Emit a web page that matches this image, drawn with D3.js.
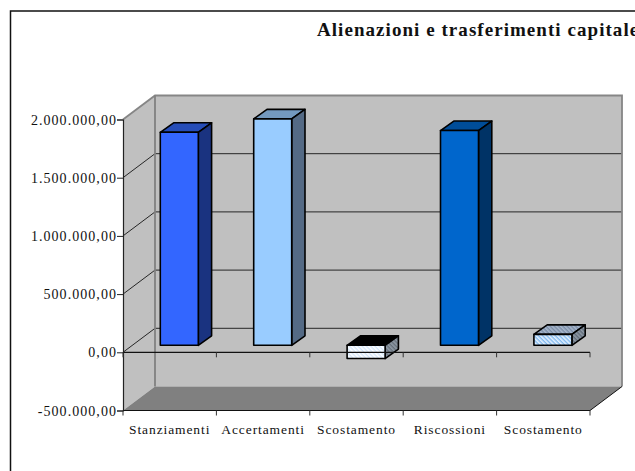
<!DOCTYPE html>
<html><head><meta charset="utf-8">
<script src="https://cdn.jsdelivr.net/npm/d3@7"></script>
<style>html,body{margin:0;padding:0;background:#fff;overflow:hidden}svg{display:block}
text{font-family:"Liberation Serif",serif;fill:#111}</style></head><body>
<script>
const title = "Alienazioni e trasferimenti capitale";
const categories = ["Stanziamenti","Accertamenti","Scostamento","Riscossioni","Scostamento "];
const values = [1830000,1945000,-114000,1845000,94000];
const yTicks = [-500000,0,500000,1000000,1500000,2000000];
const yTickLabels = ["-500.000,00","0,00","500.000,00","1.000.000,00","1.500.000,00","2.000.000,00"];
const frontColors = ["#3366ff","#99ccff","url(#pf3)","#0066cc","url(#pf5)"];
const topColors = ["#264db8","#7399bf","#000000","#004d99","url(#pt5)"];
const sideColors = ["#1a3380","#546a85","url(#ps3)","#003366","url(#ps5)"];

const W=635,H=471;
const svg=d3.select("body").append("svg").attr("width",W).attr("height",H);
const y=d3.scaleLinear().domain([-500000,2000000]).range([410.5,119.5]);
const x=d3.scaleBand().domain(d3.range(categories.length)).range([123,590]).paddingInner(0).paddingOuter(0);
const DX=32,DY=-24, barW=38, bdx=13.3,bdy=-9.5, ox=9.6,oy=-7;

// patterns
const defs=svg.append("defs");
function pat(id,bg,fg,rot){
  const p=defs.append("pattern").attr("id",id).attr("width",3).attr("height",3).attr("patternUnits","userSpaceOnUse").attr("patternTransform",`rotate(${rot})`);
  p.append("rect").attr("width",3).attr("height",3).attr("fill",bg);
  p.append("rect").attr("width",3).attr("height",1.4).attr("fill",fg);
}
pat("pf3","#ffffff","#d3e6fa",45);
pat("ps3","#8f9aa6","#66707a",45);
pat("pf5","#e6f2ff","#7fb8ee",45);
pat("pt5","#a8b8cc","#7a8ca6",45);
pat("ps5","#8f9aa6","#5f6b78",45);

const poly=(pts)=>pts.map(p=>p.join(",")).join(" ");
const yB=y(-500000),yT=y(2000000),xL=x.range()[0],xR=x.range()[1];

// frame
svg.append("path").attr("d",`M10.5,${H} V11 H${W}`).attr("fill","none").attr("stroke","#111").attr("stroke-width",1.5);

// walls
svg.append("polygon").attr("points",poly([[xL,yT],[xL+DX,yT+DY],[xL+DX,yB+DY],[xL,yB]])).attr("fill","#c0c0c0");
svg.append("polygon").attr("points",poly([[xL+DX,yT+DY],[xR+DX,yT+DY],[xR+DX,yB+DY],[xL+DX,yB+DY]])).attr("fill","#c0c0c0");
svg.append("polygon").attr("points",poly([[xL,yB],[xL+DX,yB+DY],[xR+DX,yB+DY],[xR,yB]])).attr("fill","#808080");

// gridlines
const grid=yTicks.filter(t=>t>-500000&&t<2000000);
svg.selectAll(".g").data(grid).enter().append("path").attr("class","g")
  .attr("d",t=>`M${xL},${y(t)} L${xL+DX},${y(t)+DY} H${xR+DX}`)
  .attr("fill","none").attr("stroke","#262626").attr("stroke-width",1);

// wall edges
svg.append("path").attr("d",`M${xL},${yT} L${xL+DX},${yT+DY} H${xR+DX} V${yB+DY}`).attr("fill","none").attr("stroke","#868686").attr("stroke-width",1.8);
svg.append("path").attr("d",`M${xL+DX},${yT+DY} V${yB+DY}`).attr("fill","none").attr("stroke","#808080").attr("stroke-width",1.8);

// bars
const bars=svg.selectAll(".b").data(values).enter().append("g").attr("class","b");
const bx=i=>x(i)+x.bandwidth()/2+ox-barW/2;
const by0=v=>Math.min(y(v),y(0))+oy, by1=v=>Math.max(y(v),y(0))+oy;
bars.append("polygon").attr("points",(v,i)=>poly([[bx(i),by0(v)],[bx(i)+bdx,by0(v)+bdy],[bx(i)+barW+bdx,by0(v)+bdy],[bx(i)+barW,by0(v)]])).attr("fill",(v,i)=>topColors[i]);
bars.append("polygon").attr("points",(v,i)=>poly([[bx(i)+barW,by0(v)],[bx(i)+barW+bdx,by0(v)+bdy],[bx(i)+barW+bdx,by1(v)+bdy],[bx(i)+barW,by1(v)]])).attr("fill",(v,i)=>sideColors[i]);
bars.append("rect").attr("x",(v,i)=>bx(i)).attr("y",v=>by0(v)).attr("width",barW).attr("height",v=>by1(v)-by0(v)).attr("fill",(v,i)=>frontColors[i]);
bars.selectAll("polygon,rect").attr("stroke","#000").attr("stroke-width",1.6).attr("stroke-linejoin","round");

// axes
const yAxis=d3.axisLeft(y).tickValues(yTicks).tickSize(6).tickFormat((d,i)=>yTickLabels[i]);
const gy=svg.append("g").attr("transform",`translate(${xL},0)`).call(yAxis);
gy.select(".domain").attr("stroke","#222").attr("stroke-width",1.2);
gy.selectAll(".tick line").attr("stroke","#222");
gy.selectAll("text").attr("x",-6).attr("dy","0.33em").style("font-size","14px").style("letter-spacing","1.05px").attr("fill","#111");

const tickXs=d3.range(categories.length+1).map(i=>xL+i*x.bandwidth());
const drawAxisLine=(yy)=>{
  svg.append("line").attr("x1",xL).attr("x2",xR).attr("y1",yy).attr("y2",yy).attr("stroke","#111").attr("stroke-width",1.2);
  svg.selectAll(null).data(tickXs).enter().append("line").attr("x1",d=>d).attr("x2",d=>d).attr("y1",yy).attr("y2",yy+5).attr("stroke","#333");
};
drawAxisLine(y(0));
drawAxisLine(yB);
svg.append("line").attr("x1",xR).attr("y1",yB).attr("x2",xR+DX).attr("y2",yB+DY).attr("stroke","#111");

svg.selectAll(".cat").data(categories).enter().append("text").attr("class","cat")
  .attr("x",(d,i)=>x(i)+x.bandwidth()/2).attr("y",434).attr("text-anchor","middle")
  .style("font-size","13.5px").style("letter-spacing","0.9px").text(d=>d.trim());

svg.append("text").attr("x",317).attr("y",36).style("font-size","19px").style("font-weight","bold").style("letter-spacing","1.05px").attr("fill","#000").text(title);
</script></body></html>
